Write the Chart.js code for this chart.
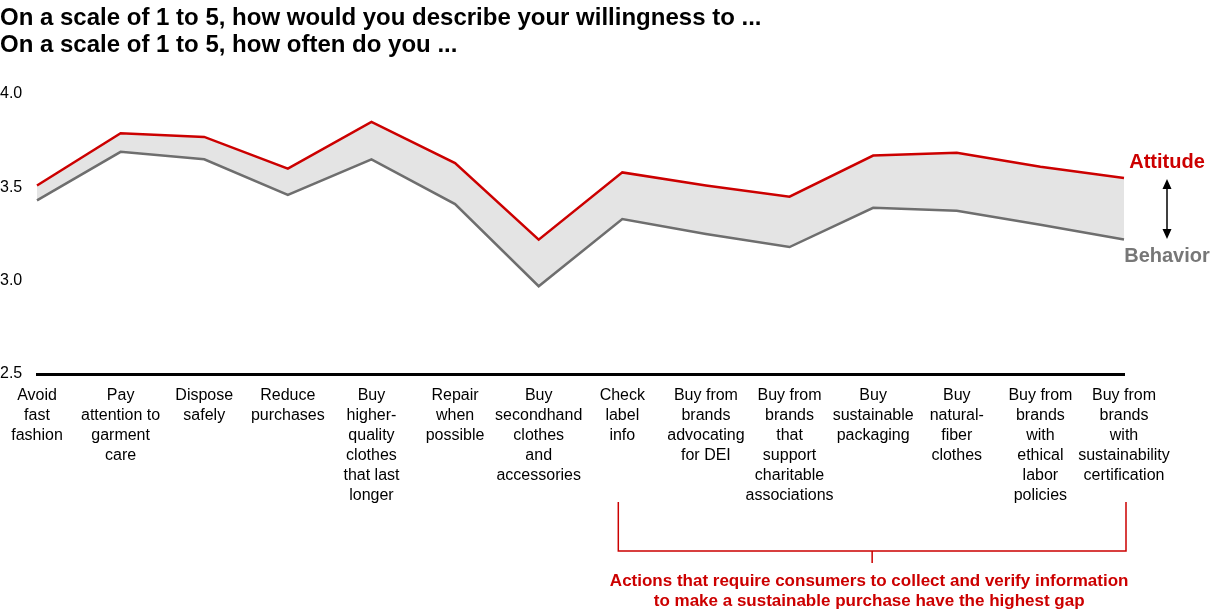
<!DOCTYPE html>
<html>
<head>
<meta charset="utf-8">
<script src="https://cdn.jsdelivr.net/npm/chart.js@4"></script>
<style>
  html, body { margin: 0; padding: 0; background: #fff; }
  canvas { display: block; }
</style>
</head>
<body>
<canvas id="gapChart" width="1212" height="612"></canvas>
<script>
// categories (multi-line tick labels)
const categories = [
    ["Avoid", "fast", "fashion"],
    ["Pay", "attention to", "garment", "care"],
    ["Dispose", "safely"],
    ["Reduce", "purchases"],
    ["Buy", "higher-", "quality", "clothes", "that last", "longer"],
    ["Repair", "when", "possible"],
    ["Buy", "secondhand", "clothes", "and", "accessories"],
    ["Check", "label", "info"],
    ["Buy from", "brands", "advocating", "for DEI"],
    ["Buy from", "brands", "that", "support", "charitable", "associations"],
    ["Buy", "sustainable", "packaging"],
    ["Buy", "natural-", "fiber", "clothes"],
    ["Buy from", "brands", "with", "ethical", "labor", "policies"],
    ["Buy from", "brands", "with", "sustainability", "certification"]
];

const attitude = [3.51, 3.79, 3.77, 3.60, 3.85, 3.63, 3.22, 3.58, 3.51, 3.45, 3.67, 3.685, 3.61, 3.55];
const behavior = [3.43, 3.69, 3.65, 3.46, 3.65, 3.41, 2.97, 3.33, 3.25, 3.18, 3.39, 3.375, 3.30, 3.22];

const yTicks = [2.5, 3.0, 3.5, 4.0];

const titleLines = [
    "On a scale of 1 to 5, how would you describe your willingness to ...",
    "On a scale of 1 to 5, how often do you ..."
];
const noteLines = [
    "Actions that require consumers to collect and verify information",
    "to make a sustainable purchase have the highest gap"
];
const bracketFrom = 7;   // "Check label info"
const bracketTo = 13;    // last category

const RED = "#cc0000";
const GREY = "#6e6e6e";
const FONT = "'Liberation Sans', Arial, sans-serif";

// draws the right-hand series names, the arrow and the bottom bracket
const annotations = {
    id: "annotations",
    afterDraw(chart) {
        const c = chart.ctx;
        const x = chart.scales.x;
        c.save();

        // series names and double arrow
        c.textAlign = "center";
        c.textBaseline = "middle";
        c.font = "bold 20px " + FONT;
        c.fillStyle = RED;
        c.fillText("Attitude", 1167, 162);
        c.fillStyle = "#777";
        c.fillText("Behavior", 1167, 256);

        c.strokeStyle = "#000";
        c.fillStyle = "#000";
        c.lineWidth = 1.5;
        c.beginPath();
        c.moveTo(1167, 184);
        c.lineTo(1167, 234);
        c.stroke();
        c.beginPath();
        c.moveTo(1167, 179); c.lineTo(1162.5, 189); c.lineTo(1171.5, 189); c.closePath();
        c.moveTo(1167, 239); c.lineTo(1162.5, 229); c.lineTo(1171.5, 229); c.closePath();
        c.fill();

        // bracket
        const x1 = x.getPixelForValue(bracketFrom) - 4;
        const x2 = x.getPixelForValue(bracketTo) + 2;
        const mid = (x1 + x2) / 2;
        c.strokeStyle = RED;
        c.lineWidth = 1.5;
        c.beginPath();
        c.moveTo(x1, 502);
        c.lineTo(x1, 551);
        c.lineTo(x2, 551);
        c.lineTo(x2, 502);
        c.moveTo(mid, 551);
        c.lineTo(mid, 563);
        c.stroke();

        c.font = "bold 17px " + FONT;
        c.fillStyle = RED;
        noteLines.forEach((t, i) => c.fillText(t, mid - 3, 581 + i * 20));

        c.restore();
    }
};

const ctx = document.getElementById("gapChart").getContext("2d");

new Chart(ctx, {
    type: "line",
    data: {
        labels: categories,
        datasets: [{
            label: "Attitude",
            data: attitude,
            borderColor: RED,
            borderWidth: 2.5,
            pointRadius: 0,
            tension: 0,
            fill: false
        }, {
            label: "Behavior",
            data: behavior,
            borderColor: GREY,
            borderWidth: 2.5,
            pointRadius: 0,
            tension: 0,
            fill: "-1",
            backgroundColor: "#e4e4e4"
        }]
    },
    options: {
        responsive: false,
        devicePixelRatio: 1,
        animation: false,
        layout: {
            padding: { left: 0, right: 88, top: 0, bottom: 94 }
        },
        scales: {
            x: {
                offset: false,
                grid: { display: false, drawTicks: false },
                border: { display: true, color: "#000", width: 3 },
                afterFit: axis => { axis.paddingLeft = 0; axis.paddingRight = 0; },
                ticks: {
                    autoSkip: false,
                    maxRotation: 0,
                    minRotation: 0,
                    padding: 12,
                    color: "#000",
                    font: { family: FONT, size: 16, lineHeight: 1.25 }
                }
            },
            y: {
                min: yTicks[0],
                max: yTicks[yTicks.length - 1],
                grid: { display: false, drawTicks: false },
                border: { display: false },
                afterBuildTicks: axis => {
                    axis.ticks = yTicks.map(v => ({ value: v }));
                },
                afterFit: axis => { axis.width = 37; },
                ticks: {
                    padding: 0,
                    crossAlign: "far",
                    color: "#000",
                    font: { family: FONT, size: 16 },
                    callback: v => Number(v).toFixed(1)
                }
            }
        },
        plugins: {
            legend: { display: false },
            tooltip: { enabled: false },
            title: {
                display: true,
                text: titleLines,
                align: "start",
                color: "#000",
                font: { family: FONT, size: 24, weight: "bold", lineHeight: 1.125 },
                padding: { top: 5, bottom: 35 }
            }
        }
    },
    plugins: [annotations]
});
</script>
</body>
</html>
